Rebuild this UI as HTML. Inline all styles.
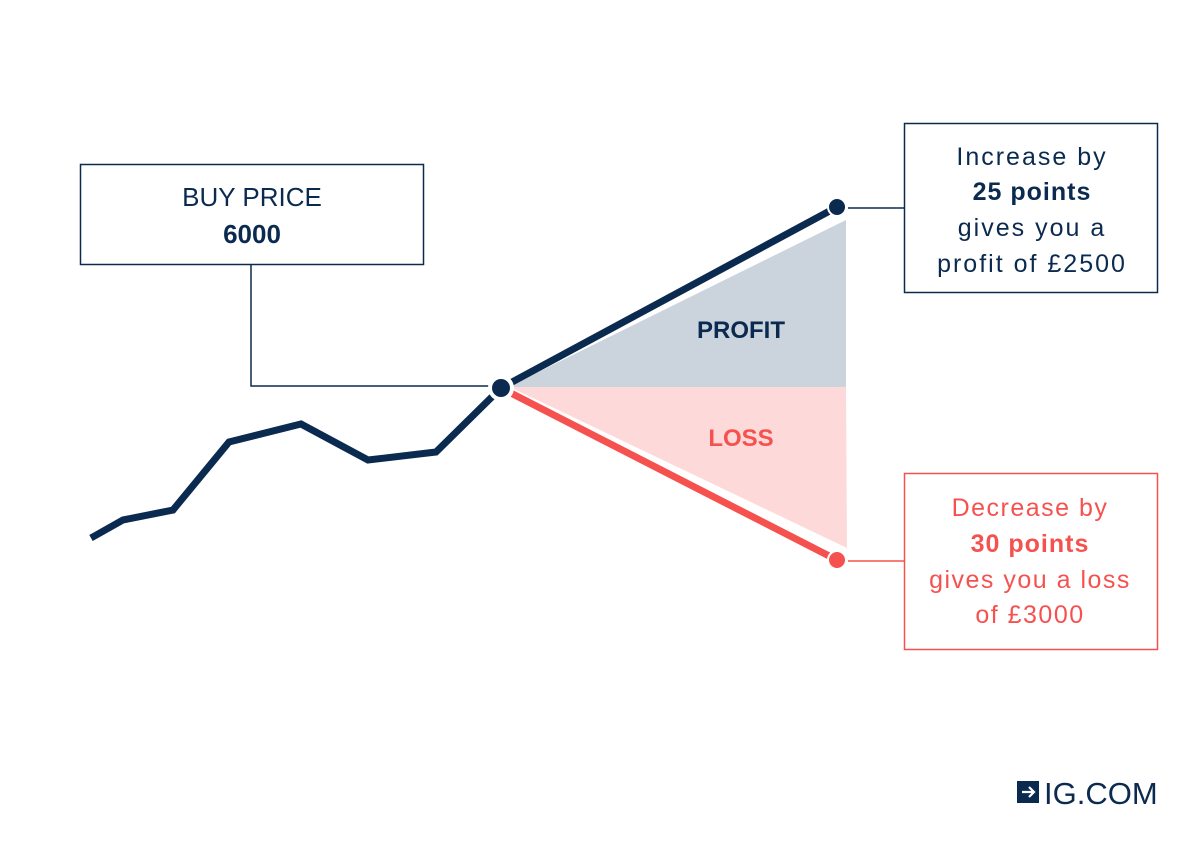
<!DOCTYPE html>
<html><head><meta charset="utf-8"><style>
body{margin:0;background:#fff}
svg{display:block;font-family:"Liberation Sans",sans-serif}
</style></head><body>
<svg id="chart" width="1201" height="849" viewBox="0 0 1201 849">
<rect width="1201" height="849" fill="#fff"/>
<polygon points="510,386 846,220 846,387 510,387" fill="#cbd3dc"/>
<polygon points="510,387 846,387 847,548" fill="#fdd9d9"/>
<text x="741" y="338" text-anchor="middle" font-size="24" font-weight="bold" fill="#0b2a4f">PROFIT</text>
<text x="741" y="446" text-anchor="middle" font-size="24" font-weight="bold" fill="#f5524f">LOSS</text>
<g id="series"></g>
<line x1="501" y1="388" x2="837" y2="207" stroke="#0b2a4f" stroke-width="7"/>
<line x1="501" y1="388" x2="837" y2="560" stroke="#f5524f" stroke-width="7"/>
<polyline points="251,264 251,386 490,386" fill="none" stroke="#0b2a4f" stroke-width="1.5"/>
<line x1="848" y1="208" x2="904" y2="208" stroke="#0b2a4f" stroke-width="1.5"/>
<line x1="848" y1="561" x2="904" y2="561" stroke="#f5524f" stroke-width="1.5"/>
<circle cx="501" cy="388" r="13" fill="#fff"/>
<circle cx="501" cy="388" r="9" fill="#0b2a4f"/>
<circle cx="837" cy="207" r="9" fill="#0b2a4f" stroke="#fff" stroke-width="2"/>
<circle cx="837" cy="560" r="9" fill="#f5524f" stroke="#fff" stroke-width="2"/>
<rect x="80.5" y="164.5" width="343" height="100" fill="#fff" stroke="#0b2a4f" stroke-width="1.5"/>
<text x="252" y="206" text-anchor="middle" font-size="26" fill="#0b2a4f">BUY PRICE</text>
<text x="252" y="243" text-anchor="middle" font-size="26" font-weight="bold" fill="#0b2a4f">6000</text>
<rect x="904.5" y="123.5" width="253" height="169" fill="#fff" stroke="#0b2a4f" stroke-width="1.5"/>
<g font-size="25" letter-spacing="2" text-anchor="middle" fill="#0b2a4f">
<text x="1032" y="165">Increase by</text>
<text x="1032" y="200" font-weight="bold" letter-spacing="1">25 points</text>
<text x="1032" y="236">gives you a</text>
<text x="1032" y="272">profit of £2500</text>
</g>
<rect x="904.5" y="473.5" width="253" height="176" fill="#fff" stroke="#f5524f" stroke-width="1.5"/>
<g font-size="25" letter-spacing="1.5" text-anchor="middle" fill="#f5524f">
<text x="1030" y="516">Decrease by</text>
<text x="1030" y="552" font-weight="bold" letter-spacing="1">30 points</text>
<text x="1030" y="588">gives you a loss</text>
<text x="1030" y="623">of £3000</text>
</g>
<g>
<rect x="1017" y="781" width="22" height="22" fill="#0b2a4f"/>
<path d="M1022 792 H1034 M1029 787 L1034 792 L1029 797" stroke="#fff" stroke-width="2.2" fill="none"/>
<text x="1044" y="804" font-size="31" fill="#0b2a4f">IG.COM</text>
</g>
</svg>
<script>
const xs=[0,1,2,3,4,5,6,7];
const prices=[5910,5919,5924,5958,5967,5949,5953,5985];
const pxX=[91,123,173,229,301,368,436,501];
function y(v){return 388-(v-5985)*2;}
const pts=xs.map((i)=>pxX[i]+","+y(prices[i])).join(" ");
const pl=document.createElementNS("http://www.w3.org/2000/svg","polyline");


pl.setAttribute("points",pts);
pl.setAttribute("fill","none");pl.setAttribute("stroke","#0b2a4f");pl.setAttribute("stroke-width","7");
document.getElementById("series").appendChild(pl);
</script>
</body></html>
